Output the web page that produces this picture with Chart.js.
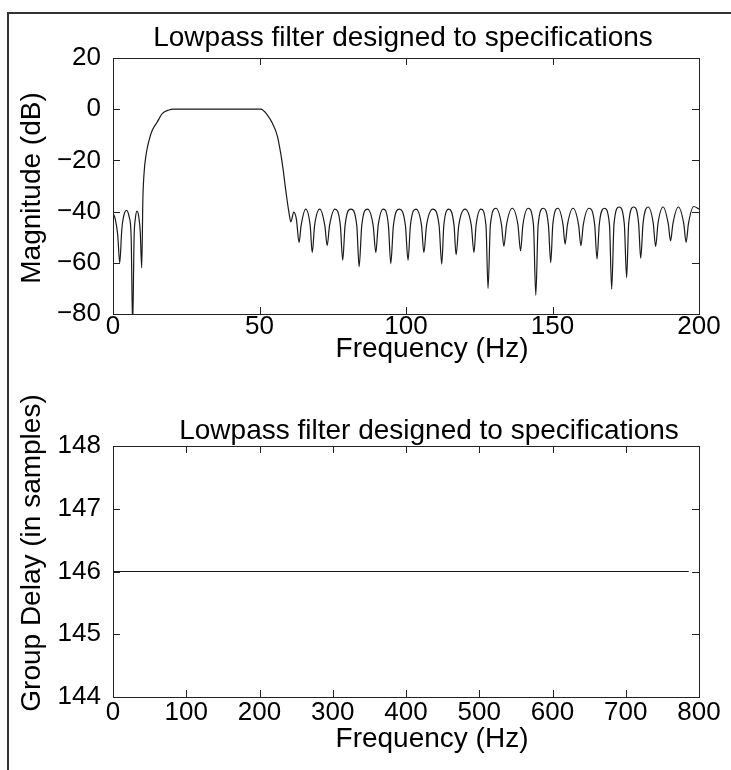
<!DOCTYPE html>
<html>
<head>
<meta charset="utf-8">
<script src="https://cdn.jsdelivr.net/npm/chart.js@4.4.1/dist/chart.umd.min.js"></script>
<style>
  html, body { margin: 0; padding: 0; background: #fff; }
  #page { position: relative; width: 731px; height: 770px; overflow: hidden; }
  #frame { position: absolute; left: 7px; top: 12px; width: 800px; height: 800px; border-left: 2px solid #333; border-top: 2px solid #333; }
  canvas { position: absolute; left: 0; }
  #chart-mag { top: 0; }
  #chart-delay { top: 385px; }
</style>
</head>
<body>
<div id="page">
  <div id="frame"></div>
  <canvas id="chart-mag" width="731" height="385"></canvas>
  <canvas id="chart-delay" width="731" height="385"></canvas>
</div>
<script>
// magnitude response (Hz, dB)
const magFreq = [
  0, 0.8, 1.6, 2.3, 3.0, 3.6, 4.6, 5.5, 6.2, 6.7, 7.2, 7.6, 8.2, 8.8, 9.3, 9.8,
  10.2, 10.6, 11.4, 12.3, 13.4, 15.1, 16.8, 19.1, 20.5,
  25, 30, 35, 40, 45, 50.4,
  52.7, 54.4, 56.1, 57.2, 58.0, 59.0, 60.0, 60.7, 61.7, 62.6, 63.5,
  64.2, 65.75, 67.3, 68.0,
  68.8, 70.55, 72.3, 73.1,
  73.9, 75.75, 77.6, 78.4,
  79.2, 81.2, 83.2, 84.0,
  84.9, 86.85, 88.8, 89.7,
  90.5, 92.25, 94.0, 94.8,
  95.7, 97.75, 99.8, 100.7,
  101.5, 103.4, 105.3, 106.1,
  107.0, 109.15, 111.3, 112.2,
  112.9, 114.65, 116.4, 117.1,
  118.0, 120.15, 122.3, 123.2,
  123.9, 125.6, 127.3, 128.0,
  128.8, 130.7, 132.6, 133.4,
  134.3, 136.25, 138.2, 139.1,
  139.9, 141.7, 143.5, 144.3,
  145.1, 146.85, 148.6, 149.4,
  150.1, 151.85, 153.6, 154.3,
  155.1, 157.0, 158.9, 159.7,
  160.5, 162.45, 164.4, 165.2,
  165.95, 167.7, 169.45, 170.2,
  171.0, 172.75, 174.5, 175.3,
  176.0, 177.7, 179.4, 180.1,
  180.9, 182.65, 184.4, 185.2,
  186.0, 187.75, 189.5, 190.3,
  191.1, 192.95, 194.8, 195.6,
  196.4, 198.2, 200
];
const magDb = [
  -40.5, -43, -49, -60, -47, -42, -39.5, -42, -50, -85, -50, -43, -39.8, -42, -48, -62,
  -35, -25, -17, -12.2, -8.2, -5, -1.7, -0.3, 0,
  0, 0, 0, 0, 0, 0,
  -2.3, -5.5, -10.5, -17, -23, -32, -40, -44, -40.2, -43, -52,
  -45.5, -39, -45.5, -56,
  -45.5, -39, -45.5, -53.3,
  -45.5, -39, -45.5, -59,
  -45.5, -39, -45.5, -61.5,
  -45.5, -39, -45.5, -56,
  -45.5, -39, -45.5, -60.3,
  -45.5, -39, -45.5, -59,
  -45.5, -39, -45.5, -56,
  -45.5, -39, -45.5, -60.5,
  -45.5, -39, -45.5, -56.9,
  -45.5, -39, -45.5, -56,
  -45.5, -39, -45.5, -70,
  -45.2, -38.7, -45.2, -53.6,
  -45.2, -38.7, -45.2, -55.3,
  -45.2, -38.7, -45.2, -72.7,
  -45.2, -38.7, -45.2, -59.9,
  -45.2, -38.7, -45.2, -52.7,
  -45.2, -38.7, -45.2, -53.3,
  -45.2, -38.7, -45.2, -58.5,
  -45.2, -38.7, -45.2, -70.3,
  -44.7, -38.2, -44.7, -65.8,
  -44.7, -38.2, -44.7, -58.2,
  -44.7, -38.2, -44.7, -53.7,
  -44.7, -38.2, -44.7, -51.4,
  -44.7, -38.2, -44.7, -52,
  -44.7, -38.0, -39
];

// group delay (Hz, samples)
const delayFreq = [0, 786];
const delaySamples = [146, 146];

const chartTitle = 'Lowpass filter designed to specifications';
const freqLabel = 'Frequency (Hz)';

const FONT = '"Liberation Sans", Arial, Helvetica, sans-serif';
Chart.defaults.font.family = FONT;
Chart.defaults.font.size = 26;
Chart.defaults.color = '#000';

const minusTick = (v) => (v < 0 ? '\u2212' + Math.abs(v) : String(v));

// frame around the plot area with inward tick marks on all four sides
const boxTicks = {
  id: 'boxTicks',
  afterDatasetsDraw(chart) {
    const { ctx, chartArea: a, scales: { x, y } } = chart;
    const len = 7;
    ctx.save();
    ctx.strokeStyle = '#222';
    ctx.lineWidth = 1;
    ctx.strokeRect(Math.round(a.left) + 0.5, Math.round(a.top) + 0.5, Math.round(a.right - a.left), Math.round(a.bottom - a.top));
    ctx.beginPath();
    x.ticks.forEach((t) => {
      const px = Math.round(x.getPixelForValue(t.value)) + 0.5;
      ctx.moveTo(px, a.bottom); ctx.lineTo(px, a.bottom - len);
      ctx.moveTo(px, a.top); ctx.lineTo(px, a.top + len);
    });
    y.ticks.forEach((t) => {
      const py = Math.round(y.getPixelForValue(t.value)) + 0.5;
      ctx.moveTo(a.left, py); ctx.lineTo(a.left + len, py);
      ctx.moveTo(a.right, py); ctx.lineTo(a.right - len, py);
    });
    ctx.stroke();
    ctx.restore();
  }
};

// title and axis labels, placed like the printed figure
const captions = {
  id: 'captions',
  afterDraw(chart, args, o) {
    const { ctx } = chart;
    ctx.save();
    ctx.fillStyle = '#000';
    ctx.font = `28px ${FONT}`;
    ctx.textAlign = 'center';
    ctx.textBaseline = 'alphabetic';
    ctx.fillText(o.title, o.titleX, o.titleY);
    ctx.fillText(o.xLabel, o.xLabelX, o.xLabelY);
    ctx.translate(o.yLabelX, o.yLabelY);
    ctx.rotate(-Math.PI / 2);
    ctx.fillText(o.yLabel, 0, 0);
    ctx.restore();
  }
};

function makeChart(id, cfg) {
  return new Chart(document.getElementById(id), {
    type: 'scatter',
    data: {
      datasets: [{
        data: cfg.xs.map((x, i) => ({ x, y: cfg.ys[i] })),
        showLine: true,
        borderColor: '#1a1a1a',
        borderWidth: 1.2,
        pointRadius: 0,
        cubicInterpolationMode: 'monotone'
      }]
    },
    options: {
      responsive: false,
      animation: false,
      events: [],
      layout: { padding: { top: cfg.top, right: 32, left: 0, bottom: 0 } },
      plugins: {
        legend: { display: false },
        tooltip: { enabled: false },
        captions: cfg.captions
      },
      scales: {
        x: {
          type: 'linear', min: cfg.xMin, max: cfg.xMax,
          ticks: { stepSize: cfg.xStep, padding: cfg.xPad, maxRotation: 0, autoSkip: false },
          grid: { display: false, drawTicks: false },
          border: { display: false },
          afterFit(s) { s.height = cfg.xAxisHeight; }
        },
        y: {
          min: cfg.yMin, max: cfg.yMax,
          ticks: { stepSize: cfg.yStep, padding: 12, callback: minusTick },
          grid: { display: false, drawTicks: false },
          border: { display: false },
          afterFit(s) { s.width = 113; }
        }
      }
    },
    plugins: [boxTicks, captions]
  });
}

makeChart('chart-mag', {
  xs: magFreq, ys: magDb,
  xMin: 0, xMax: 200, xStep: 50, xPad: -3,
  yMin: -80, yMax: 20, yStep: 20,
  top: 58, xAxisHeight: 71,
  captions: {
    title: chartTitle, titleX: 403, titleY: 46,
    xLabel: freqLabel, xLabelX: 432, xLabelY: 357,
    yLabel: 'Magnitude (dB)', yLabelX: 40, yLabelY: 188
  }
});

makeChart('chart-delay', {
  xs: delayFreq, ys: delaySamples,
  xMin: 0, xMax: 800, xStep: 100, xPad: 0,
  yMin: 144, yMax: 148, yStep: 1,
  top: 61, xAxisHeight: 73,
  captions: {
    title: chartTitle, titleX: 429, titleY: 54,
    xLabel: freqLabel, xLabelX: 432, xLabelY: 362,
    yLabel: 'Group Delay (in samples)', yLabelX: 40, yLabelY: 168
  }
});
</script>
</body>
</html>
